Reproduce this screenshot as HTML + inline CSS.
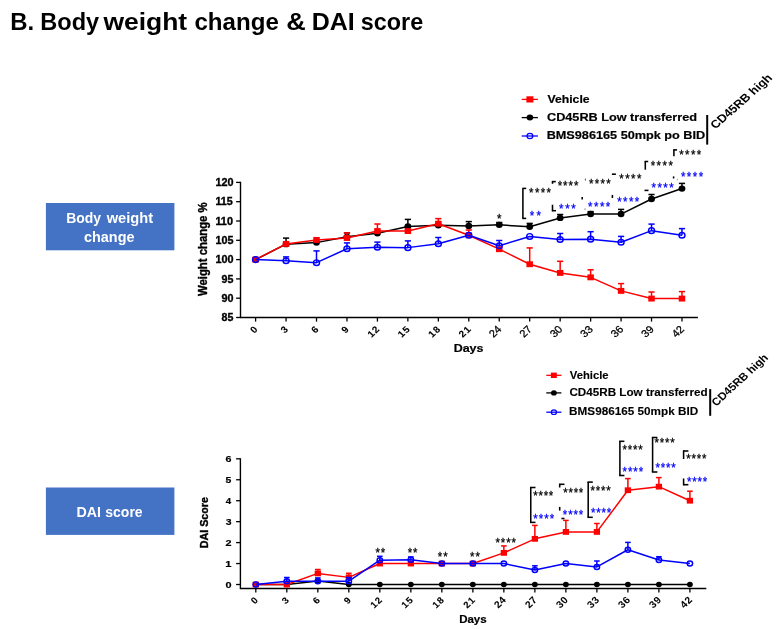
<!DOCTYPE html>
<html lang="en"><head><meta charset="utf-8"><title>Body weight change and DAI score</title>
<style>
html,body{margin:0;padding:0;background:#fff;}
body{width:777px;height:629px;overflow:hidden;}
svg{display:block;}
svg text{font-family:"Liberation Sans",Arial,sans-serif;}
</style></head><body>
<svg width="777" height="629" viewBox="0 0 777 629">
<rect width="777" height="629" fill="#fff"/>
<rect x="45.9" y="203" width="128.5" height="47.3" fill="#4472c4"/>
<rect x="45.9" y="487.5" width="128.5" height="47.4" fill="#4472c4"/>
<text transform="translate(10.30,29.70) scale(0.9697,1)" font-size="24.7" font-weight="bold" fill="#000" stroke="#000" stroke-width="0">B.</text>
<text transform="translate(40.32,29.70) scale(0.9539,1)" font-size="24.7" font-weight="bold" fill="#000" stroke="#000" stroke-width="0">Body</text>
<text transform="translate(103.38,29.70) scale(1.0720,1)" font-size="24.7" font-weight="bold" fill="#000" stroke="#000" stroke-width="0">weight</text>
<text transform="translate(194.46,29.70) scale(0.9756,1)" font-size="24.7" font-weight="bold" fill="#000" stroke="#000" stroke-width="0">change</text>
<text transform="translate(286.21,29.70) scale(1.0951,1)" font-size="24.7" font-weight="bold" fill="#000" stroke="#000" stroke-width="0">&amp;</text>
<text transform="translate(311.73,29.70) scale(1.0119,1)" font-size="24.7" font-weight="bold" fill="#000" stroke="#000" stroke-width="0">DAI</text>
<text transform="translate(360.78,29.70) scale(0.9471,1)" font-size="24.7" font-weight="bold" fill="#000" stroke="#000" stroke-width="0">score</text>
<text transform="translate(66.17,222.70) scale(0.9499,1)" font-size="14.7" font-weight="bold" fill="#fff" stroke="#fff" stroke-width="0">Body</text>
<text transform="translate(106.64,222.70) scale(0.9976,1)" font-size="14.7" font-weight="bold" fill="#fff" stroke="#fff" stroke-width="0">weight</text>
<text transform="translate(84.04,241.90) scale(0.9804,1)" font-size="14.7" font-weight="bold" fill="#fff" stroke="#fff" stroke-width="0">change</text>
<text transform="translate(76.45,516.80) scale(0.9679,1)" font-size="14.7" font-weight="bold" fill="#fff" stroke="#fff" stroke-width="0">DAI</text>
<text transform="translate(105.31,516.80) scale(0.9527,1)" font-size="14.7" font-weight="bold" fill="#fff" stroke="#fff" stroke-width="0">score</text>
<line x1="240.50" y1="181.75" x2="240.50" y2="318.15" stroke="#000000" stroke-width="1.4" stroke-linecap="butt"/>
<line x1="240.50" y1="317.50" x2="697.90" y2="317.50" stroke="#000000" stroke-width="1.3" stroke-linecap="butt"/>
<line x1="236.10" y1="317.50" x2="240.50" y2="317.50" stroke="#000000" stroke-width="1.3" stroke-linecap="butt"/>
<text transform="translate(221.56,321.10) scale(1.0329,1)" font-size="10.3" font-weight="bold" fill="#000" stroke="#000" stroke-width="0.35">85</text>
<line x1="236.10" y1="298.20" x2="240.50" y2="298.20" stroke="#000000" stroke-width="1.3" stroke-linecap="butt"/>
<text transform="translate(221.53,301.80) scale(1.0490,1)" font-size="10.3" font-weight="bold" fill="#000" stroke="#000" stroke-width="0.35">90</text>
<line x1="236.10" y1="278.90" x2="240.50" y2="278.90" stroke="#000000" stroke-width="1.3" stroke-linecap="butt"/>
<text transform="translate(221.53,282.50) scale(1.0358,1)" font-size="10.3" font-weight="bold" fill="#000" stroke="#000" stroke-width="0.35">95</text>
<line x1="236.10" y1="259.60" x2="240.50" y2="259.60" stroke="#000000" stroke-width="1.3" stroke-linecap="butt"/>
<text transform="translate(215.42,263.20) scale(1.0550,1)" font-size="10.3" font-weight="bold" fill="#000" stroke="#000" stroke-width="0.35">100</text>
<line x1="236.10" y1="240.30" x2="240.50" y2="240.30" stroke="#000000" stroke-width="1.3" stroke-linecap="butt"/>
<text transform="translate(215.42,243.90) scale(1.0462,1)" font-size="10.3" font-weight="bold" fill="#000" stroke="#000" stroke-width="0.35">105</text>
<line x1="236.10" y1="221.00" x2="240.50" y2="221.00" stroke="#000000" stroke-width="1.3" stroke-linecap="butt"/>
<text transform="translate(215.42,224.60) scale(1.0550,1)" font-size="10.3" font-weight="bold" fill="#000" stroke="#000" stroke-width="0.35">110</text>
<line x1="236.10" y1="201.70" x2="240.50" y2="201.70" stroke="#000000" stroke-width="1.3" stroke-linecap="butt"/>
<text transform="translate(215.42,205.30) scale(1.0462,1)" font-size="10.3" font-weight="bold" fill="#000" stroke="#000" stroke-width="0.35">115</text>
<line x1="236.10" y1="182.40" x2="240.50" y2="182.40" stroke="#000000" stroke-width="1.3" stroke-linecap="butt"/>
<text transform="translate(215.42,186.00) scale(1.0550,1)" font-size="10.3" font-weight="bold" fill="#000" stroke="#000" stroke-width="0.35">120</text>
<line x1="255.60" y1="317.50" x2="255.60" y2="321.60" stroke="#000000" stroke-width="1.3" stroke-linecap="butt"/>
<text transform="translate(258.90,329.3) scale(1.07,1) rotate(-45)" font-size="9.3" font-weight="bold" letter-spacing="1.0" text-anchor="end" stroke="#000" stroke-width="0.1">0</text>
<line x1="286.06" y1="317.50" x2="286.06" y2="321.60" stroke="#000000" stroke-width="1.3" stroke-linecap="butt"/>
<text transform="translate(289.36,329.3) scale(1.07,1) rotate(-45)" font-size="9.3" font-weight="bold" letter-spacing="1.0" text-anchor="end" stroke="#000" stroke-width="0.1">3</text>
<line x1="316.51" y1="317.50" x2="316.51" y2="321.60" stroke="#000000" stroke-width="1.3" stroke-linecap="butt"/>
<text transform="translate(319.81,329.3) scale(1.07,1) rotate(-45)" font-size="9.3" font-weight="bold" letter-spacing="1.0" text-anchor="end" stroke="#000" stroke-width="0.1">6</text>
<line x1="346.97" y1="317.50" x2="346.97" y2="321.60" stroke="#000000" stroke-width="1.3" stroke-linecap="butt"/>
<text transform="translate(350.27,329.3) scale(1.07,1) rotate(-45)" font-size="9.3" font-weight="bold" letter-spacing="1.0" text-anchor="end" stroke="#000" stroke-width="0.1">9</text>
<line x1="377.42" y1="317.50" x2="377.42" y2="321.60" stroke="#000000" stroke-width="1.3" stroke-linecap="butt"/>
<text transform="translate(380.72,329.3) scale(1.07,1) rotate(-45)" font-size="9.3" font-weight="bold" letter-spacing="1.0" text-anchor="end" stroke="#000" stroke-width="0.1">12</text>
<line x1="407.88" y1="317.50" x2="407.88" y2="321.60" stroke="#000000" stroke-width="1.3" stroke-linecap="butt"/>
<text transform="translate(411.18,329.3) scale(1.07,1) rotate(-45)" font-size="9.3" font-weight="bold" letter-spacing="1.0" text-anchor="end" stroke="#000" stroke-width="0.1">15</text>
<line x1="438.34" y1="317.50" x2="438.34" y2="321.60" stroke="#000000" stroke-width="1.3" stroke-linecap="butt"/>
<text transform="translate(441.64,329.3) scale(1.07,1) rotate(-45)" font-size="9.3" font-weight="bold" letter-spacing="1.0" text-anchor="end" stroke="#000" stroke-width="0.1">18</text>
<line x1="468.79" y1="317.50" x2="468.79" y2="321.60" stroke="#000000" stroke-width="1.3" stroke-linecap="butt"/>
<text transform="translate(472.09,329.3) scale(1.07,1) rotate(-45)" font-size="9.3" font-weight="bold" letter-spacing="1.0" text-anchor="end" stroke="#000" stroke-width="0.1">21</text>
<line x1="499.25" y1="317.50" x2="499.25" y2="321.60" stroke="#000000" stroke-width="1.3" stroke-linecap="butt"/>
<text transform="translate(502.25,329.8) scale(1.07,1) rotate(-45)" font-size="10.4" font-weight="normal" fill="#000" stroke="#000" stroke-width="0.25" text-anchor="end">24</text>
<line x1="529.70" y1="317.50" x2="529.70" y2="321.60" stroke="#000000" stroke-width="1.3" stroke-linecap="butt"/>
<text transform="translate(532.70,329.8) scale(1.07,1) rotate(-45)" font-size="10.4" font-weight="normal" fill="#000" stroke="#000" stroke-width="0.25" text-anchor="end">27</text>
<line x1="560.16" y1="317.50" x2="560.16" y2="321.60" stroke="#000000" stroke-width="1.3" stroke-linecap="butt"/>
<text transform="translate(563.16,329.8) scale(1.07,1) rotate(-45)" font-size="10.4" font-weight="normal" fill="#000" stroke="#000" stroke-width="0.25" text-anchor="end">30</text>
<line x1="590.62" y1="317.50" x2="590.62" y2="321.60" stroke="#000000" stroke-width="1.3" stroke-linecap="butt"/>
<text transform="translate(593.62,329.8) scale(1.07,1) rotate(-45)" font-size="10.4" font-weight="normal" fill="#000" stroke="#000" stroke-width="0.25" text-anchor="end">33</text>
<line x1="621.07" y1="317.50" x2="621.07" y2="321.60" stroke="#000000" stroke-width="1.3" stroke-linecap="butt"/>
<text transform="translate(624.07,329.8) scale(1.07,1) rotate(-45)" font-size="10.4" font-weight="normal" fill="#000" stroke="#000" stroke-width="0.25" text-anchor="end">36</text>
<line x1="651.53" y1="317.50" x2="651.53" y2="321.60" stroke="#000000" stroke-width="1.3" stroke-linecap="butt"/>
<text transform="translate(654.53,329.8) scale(1.07,1) rotate(-45)" font-size="10.4" font-weight="normal" fill="#000" stroke="#000" stroke-width="0.25" text-anchor="end">39</text>
<line x1="681.98" y1="317.50" x2="681.98" y2="321.60" stroke="#000000" stroke-width="1.3" stroke-linecap="butt"/>
<text transform="translate(684.98,329.8) scale(1.07,1) rotate(-45)" font-size="10.4" font-weight="normal" fill="#000" stroke="#000" stroke-width="0.25" text-anchor="end">42</text>
<text transform="translate(207.1,249.2) scale(1.07,1) rotate(-90)" font-size="11.36" font-weight="bold" fill="#000" stroke="#000" stroke-width="0.35" text-anchor="middle">Weight change %</text>
<text transform="translate(453.66,352.30) scale(1.1049,1)" font-size="11.3" font-weight="bold" fill="#000" stroke="#000" stroke-width="0.2">Days</text>
<line x1="286.06" y1="244.16" x2="286.06" y2="238.10" stroke="#000000" stroke-width="1.5" stroke-linecap="butt"/>
<line x1="282.96" y1="238.10" x2="289.16" y2="238.10" stroke="#000000" stroke-width="1.5" stroke-linecap="butt"/>
<line x1="346.97" y1="236.83" x2="346.97" y2="232.90" stroke="#000000" stroke-width="1.5" stroke-linecap="butt"/>
<line x1="343.87" y1="232.90" x2="350.07" y2="232.90" stroke="#000000" stroke-width="1.5" stroke-linecap="butt"/>
<line x1="407.88" y1="226.40" x2="407.88" y2="219.40" stroke="#000000" stroke-width="1.5" stroke-linecap="butt"/>
<line x1="404.78" y1="219.40" x2="410.98" y2="219.40" stroke="#000000" stroke-width="1.5" stroke-linecap="butt"/>
<line x1="468.79" y1="226.02" x2="468.79" y2="221.60" stroke="#000000" stroke-width="1.5" stroke-linecap="butt"/>
<line x1="465.69" y1="221.60" x2="471.89" y2="221.60" stroke="#000000" stroke-width="1.5" stroke-linecap="butt"/>
<line x1="499.25" y1="224.86" x2="499.25" y2="222.50" stroke="#000000" stroke-width="1.5" stroke-linecap="butt"/>
<line x1="496.15" y1="222.50" x2="502.35" y2="222.50" stroke="#000000" stroke-width="1.5" stroke-linecap="butt"/>
<line x1="529.70" y1="226.79" x2="529.70" y2="223.40" stroke="#000000" stroke-width="1.5" stroke-linecap="butt"/>
<line x1="526.60" y1="223.40" x2="532.80" y2="223.40" stroke="#000000" stroke-width="1.5" stroke-linecap="butt"/>
<line x1="560.16" y1="217.91" x2="560.16" y2="214.50" stroke="#000000" stroke-width="1.5" stroke-linecap="butt"/>
<line x1="557.06" y1="214.50" x2="563.26" y2="214.50" stroke="#000000" stroke-width="1.5" stroke-linecap="butt"/>
<line x1="590.62" y1="214.05" x2="590.62" y2="211.60" stroke="#000000" stroke-width="1.5" stroke-linecap="butt"/>
<line x1="587.52" y1="211.60" x2="593.72" y2="211.60" stroke="#000000" stroke-width="1.5" stroke-linecap="butt"/>
<line x1="621.07" y1="214.05" x2="621.07" y2="209.40" stroke="#000000" stroke-width="1.5" stroke-linecap="butt"/>
<line x1="617.97" y1="209.40" x2="624.17" y2="209.40" stroke="#000000" stroke-width="1.5" stroke-linecap="butt"/>
<line x1="651.53" y1="199.00" x2="651.53" y2="194.50" stroke="#000000" stroke-width="1.5" stroke-linecap="butt"/>
<line x1="648.43" y1="194.50" x2="654.63" y2="194.50" stroke="#000000" stroke-width="1.5" stroke-linecap="butt"/>
<line x1="681.98" y1="188.58" x2="681.98" y2="183.40" stroke="#000000" stroke-width="1.5" stroke-linecap="butt"/>
<line x1="678.88" y1="183.40" x2="685.08" y2="183.40" stroke="#000000" stroke-width="1.5" stroke-linecap="butt"/>
<polyline fill="none" stroke="#000000" stroke-width="1.5" stroke-linejoin="round" points="255.60,259.60 286.06,244.16 316.51,242.62 346.97,236.83 377.42,233.35 407.88,226.40 438.34,225.25 468.79,226.02 499.25,224.86 529.70,226.79 560.16,217.91 590.62,214.05 621.07,214.05 651.53,199.00 681.98,188.58"/>
<ellipse cx="255.60" cy="259.60" rx="3.4" ry="3.2" fill="#000000"/>
<ellipse cx="286.06" cy="244.16" rx="3.4" ry="3.2" fill="#000000"/>
<ellipse cx="316.51" cy="242.62" rx="3.4" ry="3.2" fill="#000000"/>
<ellipse cx="346.97" cy="236.83" rx="3.4" ry="3.2" fill="#000000"/>
<ellipse cx="377.42" cy="233.35" rx="3.4" ry="3.2" fill="#000000"/>
<ellipse cx="407.88" cy="226.40" rx="3.4" ry="3.2" fill="#000000"/>
<ellipse cx="438.34" cy="225.25" rx="3.4" ry="3.2" fill="#000000"/>
<ellipse cx="468.79" cy="226.02" rx="3.4" ry="3.2" fill="#000000"/>
<ellipse cx="499.25" cy="224.86" rx="3.4" ry="3.2" fill="#000000"/>
<ellipse cx="529.70" cy="226.79" rx="3.4" ry="3.2" fill="#000000"/>
<ellipse cx="560.16" cy="217.91" rx="3.4" ry="3.2" fill="#000000"/>
<ellipse cx="590.62" cy="214.05" rx="3.4" ry="3.2" fill="#000000"/>
<ellipse cx="621.07" cy="214.05" rx="3.4" ry="3.2" fill="#000000"/>
<ellipse cx="651.53" cy="199.00" rx="3.4" ry="3.2" fill="#000000"/>
<ellipse cx="681.98" cy="188.58" rx="3.4" ry="3.2" fill="#000000"/>
<line x1="346.97" y1="237.98" x2="346.97" y2="232.90" stroke="#ff0000" stroke-width="1.5" stroke-linecap="butt"/>
<line x1="343.87" y1="232.90" x2="350.07" y2="232.90" stroke="#ff0000" stroke-width="1.5" stroke-linecap="butt"/>
<line x1="377.42" y1="231.04" x2="377.42" y2="224.00" stroke="#ff0000" stroke-width="1.5" stroke-linecap="butt"/>
<line x1="374.32" y1="224.00" x2="380.52" y2="224.00" stroke="#ff0000" stroke-width="1.5" stroke-linecap="butt"/>
<line x1="438.34" y1="223.70" x2="438.34" y2="218.60" stroke="#ff0000" stroke-width="1.5" stroke-linecap="butt"/>
<line x1="435.24" y1="218.60" x2="441.44" y2="218.60" stroke="#ff0000" stroke-width="1.5" stroke-linecap="butt"/>
<line x1="468.79" y1="235.28" x2="468.79" y2="230.00" stroke="#ff0000" stroke-width="1.5" stroke-linecap="butt"/>
<line x1="465.69" y1="230.00" x2="471.89" y2="230.00" stroke="#ff0000" stroke-width="1.5" stroke-linecap="butt"/>
<line x1="529.70" y1="264.23" x2="529.70" y2="247.90" stroke="#ff0000" stroke-width="1.5" stroke-linecap="butt"/>
<line x1="526.60" y1="247.90" x2="532.80" y2="247.90" stroke="#ff0000" stroke-width="1.5" stroke-linecap="butt"/>
<line x1="560.16" y1="272.92" x2="560.16" y2="261.30" stroke="#ff0000" stroke-width="1.5" stroke-linecap="butt"/>
<line x1="557.06" y1="261.30" x2="563.26" y2="261.30" stroke="#ff0000" stroke-width="1.5" stroke-linecap="butt"/>
<line x1="590.62" y1="277.36" x2="590.62" y2="269.80" stroke="#ff0000" stroke-width="1.5" stroke-linecap="butt"/>
<line x1="587.52" y1="269.80" x2="593.72" y2="269.80" stroke="#ff0000" stroke-width="1.5" stroke-linecap="butt"/>
<line x1="621.07" y1="290.87" x2="621.07" y2="283.60" stroke="#ff0000" stroke-width="1.5" stroke-linecap="butt"/>
<line x1="617.97" y1="283.60" x2="624.17" y2="283.60" stroke="#ff0000" stroke-width="1.5" stroke-linecap="butt"/>
<line x1="651.53" y1="298.59" x2="651.53" y2="292.00" stroke="#ff0000" stroke-width="1.5" stroke-linecap="butt"/>
<line x1="648.43" y1="292.00" x2="654.63" y2="292.00" stroke="#ff0000" stroke-width="1.5" stroke-linecap="butt"/>
<line x1="681.98" y1="298.59" x2="681.98" y2="291.60" stroke="#ff0000" stroke-width="1.5" stroke-linecap="butt"/>
<line x1="678.88" y1="291.60" x2="685.08" y2="291.60" stroke="#ff0000" stroke-width="1.5" stroke-linecap="butt"/>
<polyline fill="none" stroke="#ff0000" stroke-width="1.5" stroke-linejoin="round" points="255.60,259.60 286.06,243.89 316.51,239.91 346.97,237.98 377.42,231.04 407.88,231.04 438.34,223.70 468.79,235.28 499.25,249.18 529.70,264.23 560.16,272.92 590.62,277.36 621.07,290.87 651.53,298.59 681.98,298.59"/>
<rect x="252.35" y="256.65" width="6.5" height="5.9" fill="#ff0000"/>
<rect x="282.81" y="240.94" width="6.5" height="5.9" fill="#ff0000"/>
<rect x="313.26" y="236.96" width="6.5" height="5.9" fill="#ff0000"/>
<rect x="343.72" y="235.03" width="6.5" height="5.9" fill="#ff0000"/>
<rect x="374.17" y="228.09" width="6.5" height="5.9" fill="#ff0000"/>
<rect x="404.63" y="228.09" width="6.5" height="5.9" fill="#ff0000"/>
<rect x="435.09" y="220.75" width="6.5" height="5.9" fill="#ff0000"/>
<rect x="465.54" y="232.33" width="6.5" height="5.9" fill="#ff0000"/>
<rect x="496.00" y="246.23" width="6.5" height="5.9" fill="#ff0000"/>
<rect x="526.45" y="261.28" width="6.5" height="5.9" fill="#ff0000"/>
<rect x="556.91" y="269.97" width="6.5" height="5.9" fill="#ff0000"/>
<rect x="587.37" y="274.41" width="6.5" height="5.9" fill="#ff0000"/>
<rect x="617.82" y="287.92" width="6.5" height="5.9" fill="#ff0000"/>
<rect x="648.28" y="295.64" width="6.5" height="5.9" fill="#ff0000"/>
<rect x="678.73" y="295.64" width="6.5" height="5.9" fill="#ff0000"/>
<line x1="286.06" y1="260.76" x2="286.06" y2="256.90" stroke="#0000ff" stroke-width="1.5" stroke-linecap="butt"/>
<line x1="282.96" y1="256.90" x2="289.16" y2="256.90" stroke="#0000ff" stroke-width="1.5" stroke-linecap="butt"/>
<line x1="316.51" y1="262.69" x2="316.51" y2="250.90" stroke="#0000ff" stroke-width="1.5" stroke-linecap="butt"/>
<line x1="313.41" y1="250.90" x2="319.61" y2="250.90" stroke="#0000ff" stroke-width="1.5" stroke-linecap="butt"/>
<line x1="346.97" y1="248.79" x2="346.97" y2="242.90" stroke="#0000ff" stroke-width="1.5" stroke-linecap="butt"/>
<line x1="343.87" y1="242.90" x2="350.07" y2="242.90" stroke="#0000ff" stroke-width="1.5" stroke-linecap="butt"/>
<line x1="377.42" y1="247.25" x2="377.42" y2="242.10" stroke="#0000ff" stroke-width="1.5" stroke-linecap="butt"/>
<line x1="374.32" y1="242.10" x2="380.52" y2="242.10" stroke="#0000ff" stroke-width="1.5" stroke-linecap="butt"/>
<line x1="407.88" y1="247.63" x2="407.88" y2="240.90" stroke="#0000ff" stroke-width="1.5" stroke-linecap="butt"/>
<line x1="404.78" y1="240.90" x2="410.98" y2="240.90" stroke="#0000ff" stroke-width="1.5" stroke-linecap="butt"/>
<line x1="438.34" y1="243.77" x2="438.34" y2="237.50" stroke="#0000ff" stroke-width="1.5" stroke-linecap="butt"/>
<line x1="435.24" y1="237.50" x2="441.44" y2="237.50" stroke="#0000ff" stroke-width="1.5" stroke-linecap="butt"/>
<line x1="499.25" y1="245.70" x2="499.25" y2="240.50" stroke="#0000ff" stroke-width="1.5" stroke-linecap="butt"/>
<line x1="496.15" y1="240.50" x2="502.35" y2="240.50" stroke="#0000ff" stroke-width="1.5" stroke-linecap="butt"/>
<line x1="560.16" y1="239.53" x2="560.16" y2="233.50" stroke="#0000ff" stroke-width="1.5" stroke-linecap="butt"/>
<line x1="557.06" y1="233.50" x2="563.26" y2="233.50" stroke="#0000ff" stroke-width="1.5" stroke-linecap="butt"/>
<line x1="590.62" y1="239.14" x2="590.62" y2="231.70" stroke="#0000ff" stroke-width="1.5" stroke-linecap="butt"/>
<line x1="587.52" y1="231.70" x2="593.72" y2="231.70" stroke="#0000ff" stroke-width="1.5" stroke-linecap="butt"/>
<line x1="621.07" y1="242.23" x2="621.07" y2="236.40" stroke="#0000ff" stroke-width="1.5" stroke-linecap="butt"/>
<line x1="617.97" y1="236.40" x2="624.17" y2="236.40" stroke="#0000ff" stroke-width="1.5" stroke-linecap="butt"/>
<line x1="651.53" y1="230.65" x2="651.53" y2="224.10" stroke="#0000ff" stroke-width="1.5" stroke-linecap="butt"/>
<line x1="648.43" y1="224.10" x2="654.63" y2="224.10" stroke="#0000ff" stroke-width="1.5" stroke-linecap="butt"/>
<line x1="681.98" y1="235.28" x2="681.98" y2="228.60" stroke="#0000ff" stroke-width="1.5" stroke-linecap="butt"/>
<line x1="678.88" y1="228.60" x2="685.08" y2="228.60" stroke="#0000ff" stroke-width="1.5" stroke-linecap="butt"/>
<polyline fill="none" stroke="#0000ff" stroke-width="1.5" stroke-linejoin="round" points="255.60,259.60 286.06,260.76 316.51,262.69 346.97,248.79 377.42,247.25 407.88,247.63 438.34,243.77 468.79,235.28 499.25,245.70 529.70,236.44 560.16,239.53 590.62,239.14 621.07,242.23 651.53,230.65 681.98,235.28"/>
<ellipse cx="255.60" cy="259.60" rx="3.0" ry="2.8" fill="none" stroke="#0000ff" stroke-width="1.45"/>
<ellipse cx="286.06" cy="260.76" rx="3.0" ry="2.8" fill="none" stroke="#0000ff" stroke-width="1.45"/>
<ellipse cx="316.51" cy="262.69" rx="3.0" ry="2.8" fill="none" stroke="#0000ff" stroke-width="1.45"/>
<ellipse cx="346.97" cy="248.79" rx="3.0" ry="2.8" fill="none" stroke="#0000ff" stroke-width="1.45"/>
<ellipse cx="377.42" cy="247.25" rx="3.0" ry="2.8" fill="none" stroke="#0000ff" stroke-width="1.45"/>
<ellipse cx="407.88" cy="247.63" rx="3.0" ry="2.8" fill="none" stroke="#0000ff" stroke-width="1.45"/>
<ellipse cx="438.34" cy="243.77" rx="3.0" ry="2.8" fill="none" stroke="#0000ff" stroke-width="1.45"/>
<ellipse cx="468.79" cy="235.28" rx="3.0" ry="2.8" fill="none" stroke="#0000ff" stroke-width="1.45"/>
<ellipse cx="499.25" cy="245.70" rx="3.0" ry="2.8" fill="none" stroke="#0000ff" stroke-width="1.45"/>
<ellipse cx="529.70" cy="236.44" rx="3.0" ry="2.8" fill="none" stroke="#0000ff" stroke-width="1.45"/>
<ellipse cx="560.16" cy="239.53" rx="3.0" ry="2.8" fill="none" stroke="#0000ff" stroke-width="1.45"/>
<ellipse cx="590.62" cy="239.14" rx="3.0" ry="2.8" fill="none" stroke="#0000ff" stroke-width="1.45"/>
<ellipse cx="621.07" cy="242.23" rx="3.0" ry="2.8" fill="none" stroke="#0000ff" stroke-width="1.45"/>
<ellipse cx="651.53" cy="230.65" rx="3.0" ry="2.8" fill="none" stroke="#0000ff" stroke-width="1.45"/>
<ellipse cx="681.98" cy="235.28" rx="3.0" ry="2.8" fill="none" stroke="#0000ff" stroke-width="1.45"/>
<line x1="521.70" y1="99.40" x2="537.90" y2="99.40" stroke="#ff0000" stroke-width="1.3" stroke-linecap="butt"/>
<rect x="526.4" y="96.30" width="7" height="6.2" fill="#ff0000"/>
<line x1="521.70" y1="117.60" x2="537.90" y2="117.60" stroke="#000000" stroke-width="1.3" stroke-linecap="butt"/>
<ellipse cx="529.9" cy="117.6" rx="3.3" ry="3.0" fill="#000000"/>
<line x1="521.70" y1="136.00" x2="537.90" y2="136.00" stroke="#0000ff" stroke-width="1.3" stroke-linecap="butt"/>
<ellipse cx="529.9" cy="136.0" rx="2.9" ry="2.6" fill="none" stroke="#0000ff" stroke-width="1.2"/>
<text transform="translate(547.42,102.90) scale(1.0471,1)" font-size="11.7" font-weight="bold" fill="#000" stroke="#000" stroke-width="0.2">Vehicle</text>
<text transform="translate(546.98,121.10) scale(1.0850,1)" font-size="11.7" font-weight="bold" fill="#000" stroke="#000" stroke-width="0.2">CD45RB Low transferred</text>
<text transform="translate(546.65,139.30) scale(1.0853,1)" font-size="11.7" font-weight="bold" fill="#000" stroke="#000" stroke-width="0.2">BMS986165 50mpk po BID</text>
<line x1="707.20" y1="115.00" x2="707.20" y2="144.60" stroke="#000000" stroke-width="2.0" stroke-linecap="butt"/>
<text transform="translate(715.5,129.6) scale(1.125,1) rotate(-45)" font-size="11.3" font-weight="bold" fill="#000" stroke="#000" stroke-width="0" text-anchor="start">CD45RB high</text>
<text transform="translate(497.02,222.85) scale(0.92,1)" font-size="12.4" letter-spacing="0.827" font-weight="normal" fill="#000000" stroke="#000000" stroke-width="0.25">*</text>
<line x1="522.90" y1="188.40" x2="522.90" y2="218.40" stroke="#000000" stroke-width="1.55" stroke-linecap="butt"/>
<line x1="522.30" y1="188.40" x2="526.20" y2="188.40" stroke="#000000" stroke-width="1.55" stroke-linecap="butt"/>
<line x1="522.30" y1="218.40" x2="526.20" y2="218.40" stroke="#000000" stroke-width="1.55" stroke-linecap="butt"/>
<text transform="translate(529.12,196.75) scale(0.92,1)" font-size="12.4" letter-spacing="1.487" font-weight="normal" fill="#000000" stroke="#000000" stroke-width="0.25">****</text>
<text transform="translate(529.82,219.55) scale(0.92,1)" font-size="12.4" letter-spacing="2.427" font-weight="normal" fill="#0000ff" stroke="#0000ff" stroke-width="0.25">**</text>
<line x1="552.50" y1="181.20" x2="552.50" y2="183.80" stroke="#000000" stroke-width="1.55" stroke-linecap="butt"/>
<line x1="551.90" y1="181.60" x2="555.80" y2="181.60" stroke="#000000" stroke-width="1.55" stroke-linecap="butt"/>
<text transform="translate(557.72,189.55) scale(0.92,1)" font-size="12.4" letter-spacing="1.052" font-weight="normal" fill="#000000" stroke="#000000" stroke-width="0.25">****</text>
<line x1="552.50" y1="204.70" x2="552.50" y2="211.20" stroke="#000000" stroke-width="1.55" stroke-linecap="butt"/>
<line x1="551.90" y1="210.70" x2="556.00" y2="210.70" stroke="#000000" stroke-width="1.55" stroke-linecap="butt"/>
<text transform="translate(559.12,213.16) scale(0.92,1)" font-size="12.4" letter-spacing="1.709" font-weight="normal" fill="#0000ff" stroke="#0000ff" stroke-width="0.25">***</text>
<line x1="585.40" y1="178.60" x2="585.40" y2="180.60" stroke="#555" stroke-width="1.0" stroke-linecap="butt"/>
<text transform="translate(588.92,188.16) scale(0.92,1)" font-size="12.4" letter-spacing="1.487" font-weight="normal" fill="#000000" stroke="#000000" stroke-width="0.25">****</text>
<line x1="582.20" y1="196.90" x2="582.20" y2="199.40" stroke="#000000" stroke-width="1.55" stroke-linecap="butt"/>
<line x1="585.10" y1="208.60" x2="585.10" y2="209.60" stroke="#333" stroke-width="1.0" stroke-linecap="butt"/>
<text transform="translate(588.02,211.25) scale(0.92,1)" font-size="12.4" letter-spacing="1.632" font-weight="normal" fill="#0000ff" stroke="#0000ff" stroke-width="0.25">****</text>
<line x1="611.90" y1="174.20" x2="615.90" y2="174.20" stroke="#000000" stroke-width="1.55" stroke-linecap="butt"/>
<text transform="translate(619.22,182.95) scale(0.92,1)" font-size="12.4" letter-spacing="1.632" font-weight="normal" fill="#000000" stroke="#000000" stroke-width="0.25">****</text>
<line x1="612.40" y1="194.90" x2="612.40" y2="198.00" stroke="#000000" stroke-width="1.55" stroke-linecap="butt"/>
<text transform="translate(617.32,205.55) scale(0.92,1)" font-size="12.4" letter-spacing="1.487" font-weight="normal" fill="#0000ff" stroke="#0000ff" stroke-width="0.25">****</text>
<line x1="645.30" y1="161.00" x2="645.30" y2="169.70" stroke="#000000" stroke-width="1.55" stroke-linecap="butt"/>
<line x1="644.70" y1="161.50" x2="648.20" y2="161.50" stroke="#000000" stroke-width="1.55" stroke-linecap="butt"/>
<text transform="translate(650.72,169.75) scale(0.92,1)" font-size="12.4" letter-spacing="1.596" font-weight="normal" fill="#000000" stroke="#000000" stroke-width="0.25">****</text>
<line x1="644.50" y1="190.40" x2="648.50" y2="190.40" stroke="#000000" stroke-width="1.55" stroke-linecap="butt"/>
<text transform="translate(651.52,191.95) scale(0.92,1)" font-size="12.4" letter-spacing="1.559" font-weight="normal" fill="#0000ff" stroke="#0000ff" stroke-width="0.25">****</text>
<line x1="673.90" y1="149.40" x2="673.90" y2="156.20" stroke="#000000" stroke-width="1.55" stroke-linecap="butt"/>
<line x1="673.30" y1="149.90" x2="677.10" y2="149.90" stroke="#000000" stroke-width="1.55" stroke-linecap="butt"/>
<text transform="translate(679.32,158.95) scale(0.92,1)" font-size="12.4" letter-spacing="1.487" font-weight="normal" fill="#000000" stroke="#000000" stroke-width="0.25">****</text>
<line x1="673.60" y1="176.40" x2="673.60" y2="178.50" stroke="#000000" stroke-width="1.55" stroke-linecap="butt"/>
<line x1="677.40" y1="179.40" x2="677.40" y2="180.20" stroke="#555" stroke-width="1.0" stroke-linecap="butt"/>
<text transform="translate(680.92,181.35) scale(0.92,1)" font-size="12.4" letter-spacing="1.632" font-weight="normal" fill="#0000ff" stroke="#0000ff" stroke-width="0.25">****</text>
<line x1="240.40" y1="458.25" x2="240.40" y2="589.15" stroke="#000000" stroke-width="1.4" stroke-linecap="butt"/>
<line x1="240.40" y1="588.50" x2="706.30" y2="588.50" stroke="#000000" stroke-width="1.3" stroke-linecap="butt"/>
<line x1="236.10" y1="584.50" x2="240.40" y2="584.50" stroke="#000000" stroke-width="1.3" stroke-linecap="butt"/>
<text transform="translate(225.47,588.10) scale(1.1272,1)" font-size="9.7" font-weight="bold" fill="#000" stroke="#000" stroke-width="0.2">0</text>
<line x1="236.10" y1="563.55" x2="240.40" y2="563.55" stroke="#000000" stroke-width="1.3" stroke-linecap="butt"/>
<text transform="translate(225.20,567.15) scale(1.1520,1)" font-size="9.7" font-weight="bold" fill="#000" stroke="#000" stroke-width="0.2">1</text>
<line x1="236.10" y1="542.60" x2="240.40" y2="542.60" stroke="#000000" stroke-width="1.3" stroke-linecap="butt"/>
<text transform="translate(225.53,546.20) scale(1.1135,1)" font-size="9.7" font-weight="bold" fill="#000" stroke="#000" stroke-width="0.2">2</text>
<line x1="236.10" y1="521.65" x2="240.40" y2="521.65" stroke="#000000" stroke-width="1.3" stroke-linecap="butt"/>
<text transform="translate(225.66,525.25) scale(1.0785,1)" font-size="9.7" font-weight="bold" fill="#000" stroke="#000" stroke-width="0.2">3</text>
<line x1="236.10" y1="500.70" x2="240.40" y2="500.70" stroke="#000000" stroke-width="1.3" stroke-linecap="butt"/>
<text transform="translate(225.75,504.30) scale(1.0008,1)" font-size="9.7" font-weight="bold" fill="#000" stroke="#000" stroke-width="0.2">4</text>
<line x1="236.10" y1="479.75" x2="240.40" y2="479.75" stroke="#000000" stroke-width="1.3" stroke-linecap="butt"/>
<text transform="translate(225.58,483.35) scale(1.0774,1)" font-size="9.7" font-weight="bold" fill="#000" stroke="#000" stroke-width="0.2">5</text>
<line x1="236.10" y1="458.80" x2="240.40" y2="458.80" stroke="#000000" stroke-width="1.3" stroke-linecap="butt"/>
<text transform="translate(225.51,462.40) scale(1.1090,1)" font-size="9.7" font-weight="bold" fill="#000" stroke="#000" stroke-width="0.2">6</text>
<line x1="255.80" y1="588.50" x2="255.80" y2="592.40" stroke="#000000" stroke-width="1.3" stroke-linecap="butt"/>
<text transform="translate(259.10,600.3) scale(1.05,1) rotate(-45)" font-size="9.2" font-weight="bold" letter-spacing="0.9" text-anchor="end" stroke="#000" stroke-width="0.1">0</text>
<line x1="286.81" y1="588.50" x2="286.81" y2="592.40" stroke="#000000" stroke-width="1.3" stroke-linecap="butt"/>
<text transform="translate(290.11,600.3) scale(1.05,1) rotate(-45)" font-size="9.2" font-weight="bold" letter-spacing="0.9" text-anchor="end" stroke="#000" stroke-width="0.1">3</text>
<line x1="317.82" y1="588.50" x2="317.82" y2="592.40" stroke="#000000" stroke-width="1.3" stroke-linecap="butt"/>
<text transform="translate(321.12,600.3) scale(1.05,1) rotate(-45)" font-size="9.2" font-weight="bold" letter-spacing="0.9" text-anchor="end" stroke="#000" stroke-width="0.1">6</text>
<line x1="348.82" y1="588.50" x2="348.82" y2="592.40" stroke="#000000" stroke-width="1.3" stroke-linecap="butt"/>
<text transform="translate(352.12,600.3) scale(1.05,1) rotate(-45)" font-size="9.2" font-weight="bold" letter-spacing="0.9" text-anchor="end" stroke="#000" stroke-width="0.1">9</text>
<line x1="379.83" y1="588.50" x2="379.83" y2="592.40" stroke="#000000" stroke-width="1.3" stroke-linecap="butt"/>
<text transform="translate(383.13,600.3) scale(1.05,1) rotate(-45)" font-size="9.2" font-weight="bold" letter-spacing="0.9" text-anchor="end" stroke="#000" stroke-width="0.1">12</text>
<line x1="410.84" y1="588.50" x2="410.84" y2="592.40" stroke="#000000" stroke-width="1.3" stroke-linecap="butt"/>
<text transform="translate(414.14,600.3) scale(1.05,1) rotate(-45)" font-size="9.2" font-weight="bold" letter-spacing="0.9" text-anchor="end" stroke="#000" stroke-width="0.1">15</text>
<line x1="441.85" y1="588.50" x2="441.85" y2="592.40" stroke="#000000" stroke-width="1.3" stroke-linecap="butt"/>
<text transform="translate(445.15,600.3) scale(1.05,1) rotate(-45)" font-size="9.2" font-weight="bold" letter-spacing="0.9" text-anchor="end" stroke="#000" stroke-width="0.1">18</text>
<line x1="472.86" y1="588.50" x2="472.86" y2="592.40" stroke="#000000" stroke-width="1.3" stroke-linecap="butt"/>
<text transform="translate(476.16,600.3) scale(1.05,1) rotate(-45)" font-size="9.2" font-weight="bold" letter-spacing="0.9" text-anchor="end" stroke="#000" stroke-width="0.1">21</text>
<line x1="503.86" y1="588.50" x2="503.86" y2="592.40" stroke="#000000" stroke-width="1.3" stroke-linecap="butt"/>
<text transform="translate(507.06,600.3) scale(1.05,1) rotate(-45)" font-size="9.9" font-weight="bold" letter-spacing="0.5" text-anchor="end">24</text>
<line x1="534.87" y1="588.50" x2="534.87" y2="592.40" stroke="#000000" stroke-width="1.3" stroke-linecap="butt"/>
<text transform="translate(538.07,600.3) scale(1.05,1) rotate(-45)" font-size="9.9" font-weight="bold" letter-spacing="0.5" text-anchor="end">27</text>
<line x1="565.88" y1="588.50" x2="565.88" y2="592.40" stroke="#000000" stroke-width="1.3" stroke-linecap="butt"/>
<text transform="translate(569.08,600.3) scale(1.05,1) rotate(-45)" font-size="9.9" font-weight="bold" letter-spacing="0.5" text-anchor="end">30</text>
<line x1="596.89" y1="588.50" x2="596.89" y2="592.40" stroke="#000000" stroke-width="1.3" stroke-linecap="butt"/>
<text transform="translate(600.09,600.3) scale(1.05,1) rotate(-45)" font-size="9.9" font-weight="bold" letter-spacing="0.5" text-anchor="end">33</text>
<line x1="627.90" y1="588.50" x2="627.90" y2="592.40" stroke="#000000" stroke-width="1.3" stroke-linecap="butt"/>
<text transform="translate(631.10,600.3) scale(1.05,1) rotate(-45)" font-size="9.9" font-weight="bold" letter-spacing="0.5" text-anchor="end">36</text>
<line x1="658.90" y1="588.50" x2="658.90" y2="592.40" stroke="#000000" stroke-width="1.3" stroke-linecap="butt"/>
<text transform="translate(662.10,600.3) scale(1.05,1) rotate(-45)" font-size="9.9" font-weight="bold" letter-spacing="0.5" text-anchor="end">39</text>
<line x1="689.91" y1="588.50" x2="689.91" y2="592.40" stroke="#000000" stroke-width="1.3" stroke-linecap="butt"/>
<text transform="translate(693.11,600.3) scale(1.05,1) rotate(-45)" font-size="9.9" font-weight="bold" letter-spacing="0.5" text-anchor="end">42</text>
<text transform="translate(208.4,522.6) scale(1.05,1) rotate(-90)" font-size="10.7" font-weight="bold" fill="#000" stroke="#000" stroke-width="0.35" text-anchor="middle">DAI Score</text>
<text transform="translate(459.13,623.00) scale(1.0668,1)" font-size="10.8" font-weight="bold" fill="#000" stroke="#000" stroke-width="0.2">Days</text>
<polyline fill="none" stroke="#000000" stroke-width="1.5" stroke-linejoin="round" points="255.80,584.50 286.81,584.50 317.82,580.94 348.82,584.50 379.83,584.50 410.84,584.50 441.85,584.50 472.86,584.50 503.86,584.50 534.87,584.50 565.88,584.50 596.89,584.50 627.90,584.50 658.90,584.50 689.91,584.50"/>
<ellipse cx="255.80" cy="584.50" rx="2.9" ry="2.7" fill="#000000"/>
<ellipse cx="286.81" cy="584.50" rx="2.9" ry="2.7" fill="#000000"/>
<ellipse cx="317.82" cy="580.94" rx="2.9" ry="2.7" fill="#000000"/>
<ellipse cx="348.82" cy="584.50" rx="2.9" ry="2.7" fill="#000000"/>
<ellipse cx="379.83" cy="584.50" rx="2.9" ry="2.7" fill="#000000"/>
<ellipse cx="410.84" cy="584.50" rx="2.9" ry="2.7" fill="#000000"/>
<ellipse cx="441.85" cy="584.50" rx="2.9" ry="2.7" fill="#000000"/>
<ellipse cx="472.86" cy="584.50" rx="2.9" ry="2.7" fill="#000000"/>
<ellipse cx="503.86" cy="584.50" rx="2.9" ry="2.7" fill="#000000"/>
<ellipse cx="534.87" cy="584.50" rx="2.9" ry="2.7" fill="#000000"/>
<ellipse cx="565.88" cy="584.50" rx="2.9" ry="2.7" fill="#000000"/>
<ellipse cx="596.89" cy="584.50" rx="2.9" ry="2.7" fill="#000000"/>
<ellipse cx="627.90" cy="584.50" rx="2.9" ry="2.7" fill="#000000"/>
<ellipse cx="658.90" cy="584.50" rx="2.9" ry="2.7" fill="#000000"/>
<ellipse cx="689.91" cy="584.50" rx="2.9" ry="2.7" fill="#000000"/>
<line x1="317.82" y1="573.40" x2="317.82" y2="569.50" stroke="#ff0000" stroke-width="1.5" stroke-linecap="butt"/>
<line x1="315.02" y1="569.50" x2="320.62" y2="569.50" stroke="#ff0000" stroke-width="1.5" stroke-linecap="butt"/>
<line x1="348.82" y1="577.38" x2="348.82" y2="573.30" stroke="#ff0000" stroke-width="1.5" stroke-linecap="butt"/>
<line x1="346.02" y1="573.30" x2="351.62" y2="573.30" stroke="#ff0000" stroke-width="1.5" stroke-linecap="butt"/>
<line x1="503.86" y1="552.87" x2="503.86" y2="545.90" stroke="#ff0000" stroke-width="1.5" stroke-linecap="butt"/>
<line x1="501.06" y1="545.90" x2="506.66" y2="545.90" stroke="#ff0000" stroke-width="1.5" stroke-linecap="butt"/>
<line x1="534.87" y1="538.83" x2="534.87" y2="525.40" stroke="#ff0000" stroke-width="1.5" stroke-linecap="butt"/>
<line x1="532.07" y1="525.40" x2="537.67" y2="525.40" stroke="#ff0000" stroke-width="1.5" stroke-linecap="butt"/>
<line x1="565.88" y1="531.92" x2="565.88" y2="520.40" stroke="#ff0000" stroke-width="1.5" stroke-linecap="butt"/>
<line x1="563.08" y1="520.40" x2="568.68" y2="520.40" stroke="#ff0000" stroke-width="1.5" stroke-linecap="butt"/>
<line x1="596.89" y1="531.92" x2="596.89" y2="523.50" stroke="#ff0000" stroke-width="1.5" stroke-linecap="butt"/>
<line x1="594.09" y1="523.50" x2="599.69" y2="523.50" stroke="#ff0000" stroke-width="1.5" stroke-linecap="butt"/>
<line x1="627.90" y1="490.23" x2="627.90" y2="478.60" stroke="#ff0000" stroke-width="1.5" stroke-linecap="butt"/>
<line x1="625.10" y1="478.60" x2="630.70" y2="478.60" stroke="#ff0000" stroke-width="1.5" stroke-linecap="butt"/>
<line x1="658.90" y1="486.66" x2="658.90" y2="477.60" stroke="#ff0000" stroke-width="1.5" stroke-linecap="butt"/>
<line x1="656.10" y1="477.60" x2="661.70" y2="477.60" stroke="#ff0000" stroke-width="1.5" stroke-linecap="butt"/>
<line x1="689.91" y1="500.70" x2="689.91" y2="491.20" stroke="#ff0000" stroke-width="1.5" stroke-linecap="butt"/>
<line x1="687.11" y1="491.20" x2="692.71" y2="491.20" stroke="#ff0000" stroke-width="1.5" stroke-linecap="butt"/>
<polyline fill="none" stroke="#ff0000" stroke-width="1.5" stroke-linejoin="round" points="255.80,584.50 286.81,584.50 317.82,573.40 348.82,577.38 379.83,563.55 410.84,563.55 441.85,563.55 472.86,563.55 503.86,552.87 534.87,538.83 565.88,531.92 596.89,531.92 627.90,490.23 658.90,486.66 689.91,500.70"/>
<rect x="252.65" y="581.60" width="6.3" height="5.8" fill="#ff0000"/>
<rect x="283.66" y="581.60" width="6.3" height="5.8" fill="#ff0000"/>
<rect x="314.67" y="570.50" width="6.3" height="5.8" fill="#ff0000"/>
<rect x="345.67" y="574.48" width="6.3" height="5.8" fill="#ff0000"/>
<rect x="376.68" y="560.65" width="6.3" height="5.8" fill="#ff0000"/>
<rect x="407.69" y="560.65" width="6.3" height="5.8" fill="#ff0000"/>
<rect x="438.70" y="560.65" width="6.3" height="5.8" fill="#ff0000"/>
<rect x="469.71" y="560.65" width="6.3" height="5.8" fill="#ff0000"/>
<rect x="500.71" y="549.97" width="6.3" height="5.8" fill="#ff0000"/>
<rect x="531.72" y="535.93" width="6.3" height="5.8" fill="#ff0000"/>
<rect x="562.73" y="529.02" width="6.3" height="5.8" fill="#ff0000"/>
<rect x="593.74" y="529.02" width="6.3" height="5.8" fill="#ff0000"/>
<rect x="624.75" y="487.33" width="6.3" height="5.8" fill="#ff0000"/>
<rect x="655.75" y="483.76" width="6.3" height="5.8" fill="#ff0000"/>
<rect x="686.76" y="497.80" width="6.3" height="5.8" fill="#ff0000"/>
<line x1="286.81" y1="581.15" x2="286.81" y2="577.50" stroke="#0000ff" stroke-width="1.5" stroke-linecap="butt"/>
<line x1="284.01" y1="577.50" x2="289.61" y2="577.50" stroke="#0000ff" stroke-width="1.5" stroke-linecap="butt"/>
<line x1="317.82" y1="581.15" x2="317.82" y2="577.90" stroke="#0000ff" stroke-width="1.5" stroke-linecap="butt"/>
<line x1="315.02" y1="577.90" x2="320.62" y2="577.90" stroke="#0000ff" stroke-width="1.5" stroke-linecap="butt"/>
<line x1="348.82" y1="581.15" x2="348.82" y2="577.50" stroke="#0000ff" stroke-width="1.5" stroke-linecap="butt"/>
<line x1="346.02" y1="577.50" x2="351.62" y2="577.50" stroke="#0000ff" stroke-width="1.5" stroke-linecap="butt"/>
<line x1="379.83" y1="560.20" x2="379.83" y2="556.30" stroke="#0000ff" stroke-width="1.5" stroke-linecap="butt"/>
<line x1="377.03" y1="556.30" x2="382.63" y2="556.30" stroke="#0000ff" stroke-width="1.5" stroke-linecap="butt"/>
<line x1="410.84" y1="559.78" x2="410.84" y2="556.90" stroke="#0000ff" stroke-width="1.5" stroke-linecap="butt"/>
<line x1="408.04" y1="556.90" x2="413.64" y2="556.90" stroke="#0000ff" stroke-width="1.5" stroke-linecap="butt"/>
<line x1="534.87" y1="570.04" x2="534.87" y2="565.80" stroke="#0000ff" stroke-width="1.5" stroke-linecap="butt"/>
<line x1="532.07" y1="565.80" x2="537.67" y2="565.80" stroke="#0000ff" stroke-width="1.5" stroke-linecap="butt"/>
<line x1="596.89" y1="566.90" x2="596.89" y2="561.00" stroke="#0000ff" stroke-width="1.5" stroke-linecap="butt"/>
<line x1="594.09" y1="561.00" x2="599.69" y2="561.00" stroke="#0000ff" stroke-width="1.5" stroke-linecap="butt"/>
<line x1="627.90" y1="549.72" x2="627.90" y2="542.40" stroke="#0000ff" stroke-width="1.5" stroke-linecap="butt"/>
<line x1="625.10" y1="542.40" x2="630.70" y2="542.40" stroke="#0000ff" stroke-width="1.5" stroke-linecap="butt"/>
<line x1="658.90" y1="559.99" x2="658.90" y2="556.70" stroke="#0000ff" stroke-width="1.5" stroke-linecap="butt"/>
<line x1="656.10" y1="556.70" x2="661.70" y2="556.70" stroke="#0000ff" stroke-width="1.5" stroke-linecap="butt"/>
<polyline fill="none" stroke="#0000ff" stroke-width="1.5" stroke-linejoin="round" points="255.80,584.50 286.81,581.15 317.82,581.15 348.82,581.15 379.83,560.20 410.84,559.78 441.85,563.55 472.86,563.55 503.86,563.55 534.87,570.04 565.88,563.55 596.89,566.90 627.90,549.72 658.90,559.99 689.91,563.55"/>
<ellipse cx="255.80" cy="584.50" rx="2.7" ry="2.5" fill="none" stroke="#0000ff" stroke-width="1.45"/>
<ellipse cx="286.81" cy="581.15" rx="2.7" ry="2.5" fill="none" stroke="#0000ff" stroke-width="1.45"/>
<ellipse cx="317.82" cy="581.15" rx="2.7" ry="2.5" fill="none" stroke="#0000ff" stroke-width="1.45"/>
<ellipse cx="348.82" cy="581.15" rx="2.7" ry="2.5" fill="none" stroke="#0000ff" stroke-width="1.45"/>
<ellipse cx="379.83" cy="560.20" rx="2.7" ry="2.5" fill="none" stroke="#0000ff" stroke-width="1.45"/>
<ellipse cx="410.84" cy="559.78" rx="2.7" ry="2.5" fill="none" stroke="#0000ff" stroke-width="1.45"/>
<ellipse cx="441.85" cy="563.55" rx="2.7" ry="2.5" fill="none" stroke="#0000ff" stroke-width="1.45"/>
<ellipse cx="472.86" cy="563.55" rx="2.7" ry="2.5" fill="none" stroke="#0000ff" stroke-width="1.45"/>
<ellipse cx="503.86" cy="563.55" rx="2.7" ry="2.5" fill="none" stroke="#0000ff" stroke-width="1.45"/>
<ellipse cx="534.87" cy="570.04" rx="2.7" ry="2.5" fill="none" stroke="#0000ff" stroke-width="1.45"/>
<ellipse cx="565.88" cy="563.55" rx="2.7" ry="2.5" fill="none" stroke="#0000ff" stroke-width="1.45"/>
<ellipse cx="596.89" cy="566.90" rx="2.7" ry="2.5" fill="none" stroke="#0000ff" stroke-width="1.45"/>
<ellipse cx="627.90" cy="549.72" rx="2.7" ry="2.5" fill="none" stroke="#0000ff" stroke-width="1.45"/>
<ellipse cx="658.90" cy="559.99" rx="2.7" ry="2.5" fill="none" stroke="#0000ff" stroke-width="1.45"/>
<ellipse cx="689.91" cy="563.55" rx="2.7" ry="2.5" fill="none" stroke="#0000ff" stroke-width="1.45"/>
<line x1="546.30" y1="375.30" x2="561.40" y2="375.30" stroke="#ff0000" stroke-width="1.3" stroke-linecap="butt"/>
<rect x="550.9" y="372.60" width="5.9" height="5.4" fill="#ff0000"/>
<line x1="546.30" y1="392.90" x2="561.40" y2="392.90" stroke="#000000" stroke-width="1.3" stroke-linecap="butt"/>
<ellipse cx="553.9" cy="392.9" rx="2.9" ry="2.6" fill="#000000"/>
<line x1="546.30" y1="412.20" x2="561.40" y2="412.20" stroke="#0000ff" stroke-width="1.3" stroke-linecap="butt"/>
<ellipse cx="553.9" cy="412.2" rx="2.6" ry="2.3" fill="none" stroke="#0000ff" stroke-width="1.2"/>
<text transform="translate(569.82,378.70) scale(1.0835,1)" font-size="10.4" font-weight="bold" fill="#000" stroke="#000" stroke-width="0.1">Vehicle</text>
<text transform="translate(569.42,396.20) scale(1.1239,1)" font-size="10.4" font-weight="bold" fill="#000" stroke="#000" stroke-width="0.1">CD45RB Low transferred</text>
<text transform="translate(569.11,415.40) scale(1.1286,1)" font-size="10.4" font-weight="bold" fill="#000" stroke="#000" stroke-width="0.1">BMS986165 50mpk BID</text>
<line x1="710.20" y1="389.10" x2="710.20" y2="415.80" stroke="#000000" stroke-width="2.0" stroke-linecap="butt"/>
<text transform="translate(716.2,406.7) scale(1.09,1) rotate(-45)" font-size="10.7" font-weight="bold" fill="#000" stroke="#000" stroke-width="0" text-anchor="start">CD45RB high</text>
<text transform="translate(375.42,556.86) scale(0.92,1)" font-size="12.4" letter-spacing="0.960" font-weight="normal" fill="#000000" stroke="#000000" stroke-width="0.25">**</text>
<text transform="translate(407.72,556.65) scale(0.92,1)" font-size="12.4" letter-spacing="0.960" font-weight="normal" fill="#000000" stroke="#000000" stroke-width="0.25">**</text>
<text transform="translate(437.72,560.65) scale(0.92,1)" font-size="12.4" letter-spacing="1.069" font-weight="normal" fill="#000000" stroke="#000000" stroke-width="0.25">**</text>
<text transform="translate(470.02,560.65) scale(0.92,1)" font-size="12.4" letter-spacing="1.177" font-weight="normal" fill="#000000" stroke="#000000" stroke-width="0.25">**</text>
<text transform="translate(495.52,546.86) scale(0.92,1)" font-size="12.4" letter-spacing="0.944" font-weight="normal" fill="#000000" stroke="#000000" stroke-width="0.25">****</text>
<line x1="530.75" y1="487.50" x2="530.75" y2="522.40" stroke="#000000" stroke-width="1.55" stroke-linecap="butt"/>
<line x1="529.98" y1="487.50" x2="535.50" y2="487.50" stroke="#000000" stroke-width="1.55" stroke-linecap="butt"/>
<line x1="529.98" y1="522.40" x2="535.50" y2="522.40" stroke="#000000" stroke-width="1.55" stroke-linecap="butt"/>
<text transform="translate(533.22,500.46) scale(0.92,1)" font-size="12.4" letter-spacing="0.835" font-weight="normal" fill="#000000" stroke="#000000" stroke-width="0.25">****</text>
<text transform="translate(533.22,522.56) scale(0.92,1)" font-size="12.4" letter-spacing="1.197" font-weight="normal" fill="#0000ff" stroke="#0000ff" stroke-width="0.25">****</text>
<line x1="559.70" y1="483.80" x2="559.70" y2="487.50" stroke="#000000" stroke-width="1.55" stroke-linecap="butt"/>
<line x1="559.10" y1="484.30" x2="564.50" y2="484.30" stroke="#000000" stroke-width="1.55" stroke-linecap="butt"/>
<text transform="translate(563.22,496.75) scale(0.92,1)" font-size="12.4" letter-spacing="0.835" font-weight="normal" fill="#000000" stroke="#000000" stroke-width="0.25">****</text>
<line x1="559.70" y1="506.90" x2="559.70" y2="510.60" stroke="#000000" stroke-width="1.55" stroke-linecap="butt"/>
<line x1="561.40" y1="518.50" x2="564.50" y2="518.50" stroke="#000000" stroke-width="1.55" stroke-linecap="butt"/>
<text transform="translate(562.82,519.06) scale(0.92,1)" font-size="12.4" letter-spacing="0.980" font-weight="normal" fill="#0000ff" stroke="#0000ff" stroke-width="0.25">****</text>
<line x1="588.20" y1="482.10" x2="588.20" y2="517.30" stroke="#000000" stroke-width="1.55" stroke-linecap="butt"/>
<line x1="587.43" y1="482.10" x2="592.80" y2="482.10" stroke="#000000" stroke-width="1.55" stroke-linecap="butt"/>
<line x1="587.43" y1="517.30" x2="592.80" y2="517.30" stroke="#000000" stroke-width="1.55" stroke-linecap="butt"/>
<text transform="translate(590.52,495.25) scale(0.92,1)" font-size="12.4" letter-spacing="0.835" font-weight="normal" fill="#000000" stroke="#000000" stroke-width="0.25">****</text>
<text transform="translate(591.12,517.46) scale(0.92,1)" font-size="12.4" letter-spacing="0.835" font-weight="normal" fill="#0000ff" stroke="#0000ff" stroke-width="0.25">****</text>
<line x1="619.90" y1="441.30" x2="619.90" y2="475.50" stroke="#000000" stroke-width="1.55" stroke-linecap="butt"/>
<line x1="619.12" y1="441.30" x2="624.40" y2="441.30" stroke="#000000" stroke-width="1.55" stroke-linecap="butt"/>
<line x1="619.12" y1="475.50" x2="624.40" y2="475.50" stroke="#000000" stroke-width="1.55" stroke-linecap="butt"/>
<text transform="translate(622.42,453.86) scale(0.92,1)" font-size="12.4" letter-spacing="0.871" font-weight="normal" fill="#000000" stroke="#000000" stroke-width="0.25">****</text>
<text transform="translate(622.62,476.06) scale(0.92,1)" font-size="12.4" letter-spacing="1.016" font-weight="normal" fill="#0000ff" stroke="#0000ff" stroke-width="0.25">****</text>
<line x1="652.60" y1="437.50" x2="652.60" y2="472.00" stroke="#000000" stroke-width="1.55" stroke-linecap="butt"/>
<line x1="651.83" y1="437.50" x2="657.40" y2="437.50" stroke="#000000" stroke-width="1.55" stroke-linecap="butt"/>
<line x1="651.83" y1="472.00" x2="657.40" y2="472.00" stroke="#000000" stroke-width="1.55" stroke-linecap="butt"/>
<text transform="translate(654.52,446.66) scale(0.92,1)" font-size="12.4" letter-spacing="0.835" font-weight="normal" fill="#000000" stroke="#000000" stroke-width="0.25">****</text>
<text transform="translate(655.62,472.46) scale(0.92,1)" font-size="12.4" letter-spacing="0.871" font-weight="normal" fill="#0000ff" stroke="#0000ff" stroke-width="0.25">****</text>
<line x1="683.60" y1="450.50" x2="683.60" y2="459.00" stroke="#000000" stroke-width="1.55" stroke-linecap="butt"/>
<line x1="683.00" y1="451.00" x2="688.40" y2="451.00" stroke="#000000" stroke-width="1.55" stroke-linecap="butt"/>
<text transform="translate(686.32,463.36) scale(0.92,1)" font-size="12.4" letter-spacing="0.835" font-weight="normal" fill="#000000" stroke="#000000" stroke-width="0.25">****</text>
<line x1="683.60" y1="478.50" x2="683.60" y2="485.20" stroke="#000000" stroke-width="1.55" stroke-linecap="butt"/>
<line x1="683.00" y1="484.70" x2="688.40" y2="484.70" stroke="#000000" stroke-width="1.55" stroke-linecap="butt"/>
<text transform="translate(686.92,485.66) scale(0.92,1)" font-size="12.4" letter-spacing="0.907" font-weight="normal" fill="#0000ff" stroke="#0000ff" stroke-width="0.25">****</text>
</svg>
</body></html>
